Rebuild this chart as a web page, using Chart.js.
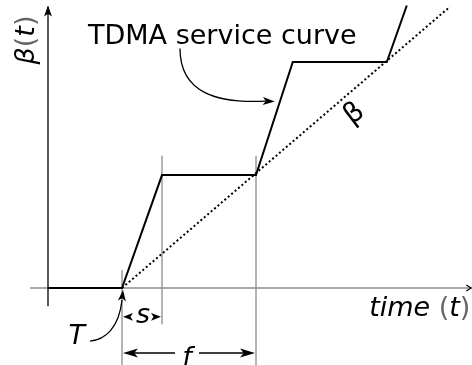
<!DOCTYPE html>
<html>
<head>
<meta charset="utf-8">
<script src="https://cdn.jsdelivr.net/npm/chart.js@4.4.0/dist/chart.umd.min.js"></script>
<style>
  html, body { margin: 0; padding: 0; background: #fff; }
  canvas { display: block; }
</style>
</head>
<body>
<canvas id="tdma" width="472" height="365"></canvas>
<script>
// slot offset T, end of slot T+s, end of frame T+f
var slotMarks = [1.85, 2.85, 5.2];
var slotLabels = ['T', 's', 'f'];

// TDMA service curve (breakpoints)
var serviceX = [0, 1.85, 2.85, 5.2, 6.12, 8.47, 8.97];
var serviceY = [0, 0, 1, 1, 2, 2, 2.5];

// long-term rate line beta
var rateX = [1.85, 10.05];
var rateY = [0, 2.49];

// extent of the vertical guide lines (bottom, top)
var guideLow = [-0.68, -0.32, -0.68];
var guideHigh = [0.16, 1.17, 1.17];

var FONT = '"DejaVu Sans", sans-serif';
var GREY = '#8c8c8c';

function pts(xs, ys) {
    return xs.map(function (x, i) { return { x: x, y: ys[i] }; });
}

var datasets = [
    {
        data: pts(serviceX, serviceY),
        borderColor: '#000',
        borderWidth: 2,
        order: 0,
    },
    {
        data: pts(rateX, rateY),
        borderColor: '#000',
        borderWidth: 2,
        borderDash: [2, 2.5],
        order: 1,
    },
    {   // time axis
        data: [{ x: -0.45, y: 0 }, { x: 10.58, y: 0 }],
        borderColor: GREY,
        borderWidth: 1.6,
        order: 5,
    },
    {   // beta(t) axis
        data: [{ x: 0, y: -0.16 }, { x: 0, y: 2.49 }],
        borderColor: '#000',
        borderWidth: 1.3,
        order: 4,
    },
];

slotMarks.forEach(function (m, i) {
    datasets.push({
        data: [{ x: m, y: guideLow[i] }, { x: m, y: guideHigh[i] }],
        borderColor: GREY,
        borderWidth: 1.3,
        order: 6,
    });
});

function head(ctx, x, y, ang, len, half) {
    ctx.save();
    ctx.translate(x, y);
    ctx.rotate(ang);
    ctx.beginPath();
    ctx.moveTo(0, 0);
    ctx.lineTo(-len, -half);
    ctx.lineTo(-len * 0.75, 0);
    ctx.lineTo(-len, half);
    ctx.closePath();
    ctx.fill();
    ctx.restore();
}

// draws a run of text pieces, each with its own font and colour
function pieces(ctx, parts, x, y) {
    parts.forEach(function (p) {
        ctx.font = p[1];
        ctx.fillStyle = p[2];
        ctx.fillText(p[0], x, y);
        x += ctx.measureText(p[0]).width;
    });
}

function piecesWidth(ctx, parts) {
    var w = 0;
    parts.forEach(function (p) {
        ctx.font = p[1];
        w += ctx.measureText(p[0]).width;
    });
    return w;
}

var sketch = {
    id: 'sketch',
    afterDatasetsDraw: function (chart) {
        var ctx = chart.ctx;
        var xs = chart.scales.x, ys = chart.scales.y;
        var X = function (v) { return xs.getPixelForValue(v); };
        var Y = function (v) { return ys.getPixelForValue(v); };
        var T = slotMarks[0], S = slotMarks[1], F = slotMarks[2];
        var it = 'italic 27px ' + FONT, up = '27px ' + FONT;

        ctx.save();
        ctx.fillStyle = '#000';
        ctx.strokeStyle = '#000';

        // axis arrow heads
        head(ctx, X(0), Y(2.5), -Math.PI / 2, 11, 4);
        ctx.lineWidth = 1.2;
        ctx.beginPath();
        ctx.moveTo(X(10.58) - 5, Y(0) - 3);
        ctx.lineTo(X(10.58), Y(0));
        ctx.lineTo(X(10.58) - 5, Y(0) + 3);
        ctx.stroke();

        // s dimension
        var sy = Y(-0.255);
        head(ctx, X(T) + 1, sy, Math.PI, 10, 3.8);
        head(ctx, X(S) - 1, sy, 0, 10, 3.8);

        // f dimension
        var fy = Y(-0.575);
        ctx.lineWidth = 1.4;
        ctx.beginPath();
        ctx.moveTo(X(T) + 4, fy);
        ctx.lineTo(X(T) + 53, fy);
        ctx.moveTo(X(T) + 77, fy);
        ctx.lineTo(X(F) - 4, fy);
        ctx.stroke();
        head(ctx, X(T) + 1, fy, Math.PI, 15, 4.5);
        head(ctx, X(F) - 1, fy, 0, 15, 4.5);

        // pointer to T
        var ex = X(T) + 1, ey = Y(0) + 2;
        ctx.lineWidth = 1.3;
        ctx.beginPath();
        ctx.moveTo(ex - 33, ey + 51);
        ctx.bezierCurveTo(ex - 18, ey + 50, ex - 4, ey + 38, ex - 1, ey + 10);
        ctx.stroke();
        head(ctx, ex, ey, -Math.PI / 2 + 0.1, 11, 4);

        // pointer from the caption to the curve
        var cx0 = X(3.3), cy0 = Y(2.12);
        var cx1 = X(5.67), cy1 = Y(1.65);
        ctx.beginPath();
        ctx.moveTo(cx0, cy0);
        ctx.bezierCurveTo(cx0, cy0 + 45, cx0 + 38, cy1 + 2, cx1 - 9, cy1 - 0.5);
        ctx.stroke();
        head(ctx, cx1, cy1, 0.05, 12, 4);

        // text
        ctx.textBaseline = 'alphabetic';
        ctx.textAlign = 'left';
        ctx.font = up;
        ctx.fillText('TDMA service curve', X(1.0), Y(2.16));

        var timeParts = [['time ', it, '#000'], ['(', up, '#666'], ['t', it, '#000'], [')', up, '#666']];
        var tw = piecesWidth(ctx, timeParts);
        pieces(ctx, timeParts, X(10.56) - tw, Y(-0.25));

        // y axis title, rotated
        var betaParts = [['\u03b2', it, '#000'], ['(', up, '#666'], ['t', it, '#000'], [')', up, '#666']];
        ctx.save();
        ctx.translate(X(-0.35), Y(2.195));
        ctx.rotate(-Math.PI / 2);
        var bw = piecesWidth(ctx, betaParts);
        pieces(ctx, betaParts, -bw / 2, 0);
        ctx.restore();

        // beta label along the rate line
        ctx.save();
        ctx.fillStyle = '#000';
        ctx.translate(X(7.66), Y(1.54));
        ctx.rotate(-0.65);
        ctx.textAlign = 'center';
        ctx.textBaseline = 'middle';
        ctx.font = '28px ' + FONT;
        ctx.fillText('\u03b2', 0, 0);
        ctx.restore();

        // slot labels
        ctx.fillStyle = '#000';
        ctx.font = it;
        ctx.textAlign = 'center';
        ctx.fillText(slotLabels[0], X(0.72), Y(-0.495));
        ctx.fillText(slotLabels[1], (X(T) + X(S)) / 2 + 1, Y(-0.31));
        ctx.fillText(slotLabels[2], X(T) + 65, Y(-0.69));

        ctx.restore();
    }
};

new Chart(document.getElementById('tdma'), {
    type: 'scatter',
    data: { datasets: datasets },
    options: {
        responsive: false,
        animation: false,
        showLine: true,
        elements: { point: { radius: 0, hoverRadius: 0 }, line: { tension: 0, borderCapStyle: 'butt' } },
        layout: { padding: 0 },
        scales: {
            x: { type: 'linear', display: false, min: -1.2, max: 10.6 },
            y: { type: 'linear', display: false, min: -0.681, max: 2.549 },
        },
        plugins: { legend: { display: false }, tooltip: { enabled: false } },
    },
    plugins: [sketch],
});
</script>
</body>
</html>
